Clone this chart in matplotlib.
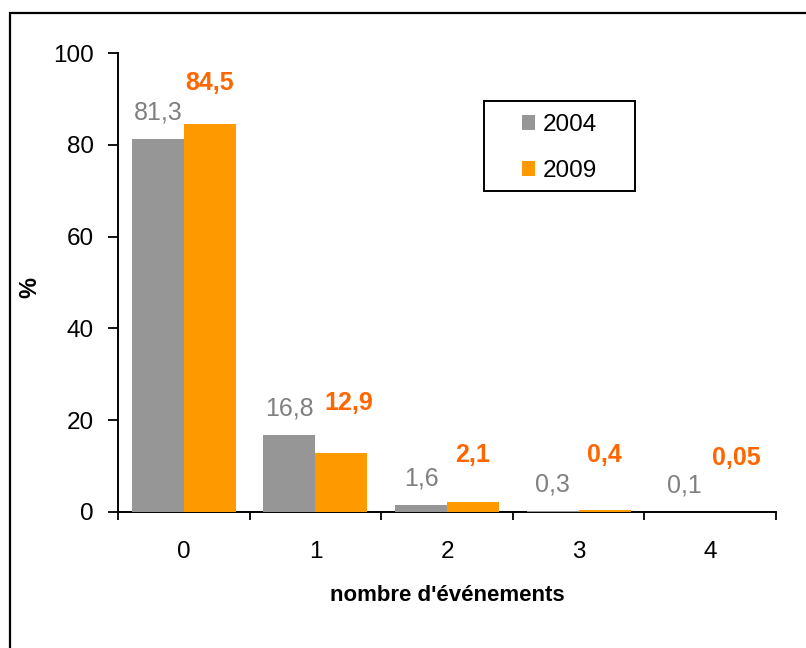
import matplotlib
matplotlib.use("Agg")
import matplotlib.pyplot as plt
from matplotlib.patches import Rectangle, Patch
import numpy as np

plt.rcParams["font.family"] = ["Liberation Sans", "DejaVu Sans"]

# Distribution of the number of events (%)
categories = ["0", "1", "2", "3", "4"]
series_names = ["2004", "2009"]
values_2004 = [81.3, 16.8, 1.6, 0.3, 0.1]
values_2009 = [84.5, 12.9, 2.1, 0.4, 0.05]
labels_2004 = ["81,3", "16,8", "1,6", "0,3", "0,1"]
labels_2009 = ["84,5", "12,9", "2,1", "0,4", "0,05"]
yticks = [0, 20, 40, 60, 80, 100]

GRAY = "#969696"
ORANGE = "#FF9900"
GRAY_TXT = "#808080"
ORANGE_TXT = "#FF6600"

W, H = 806, 648
fig = plt.figure(figsize=(W / 100, H / 100), dpi=100)
ax = fig.add_axes([118 / W, 1 - 512 / H, (776 - 118) / W, (512 - 53) / H])

x = np.arange(len(categories))
bw = 0.395
ax.bar(x - bw / 2, values_2004, width=bw, color=GRAY, edgecolor="none",
       zorder=3)
ax.bar(x + bw / 2, values_2009, width=bw, color=ORANGE, edgecolor="none",
       zorder=3)

# value labels above the bars (offsets in pixels)
gray_lift = 26
orange_lift = [41, 50, 47, 55, 54]
orange_dx = [0, 7, 0, 0, 0]
for i in range(len(categories)):
    ax.annotate(labels_2004[i], (x[i] - bw / 2, values_2004[i]),
                xytext=(0, gray_lift), textcoords="offset pixels",
                ha="center", va="center", fontsize=18, color=GRAY_TXT)
    ax.annotate(labels_2009[i], (x[i] + bw / 2, values_2009[i]),
                xytext=(orange_dx[i], orange_lift[i]), textcoords="offset pixels",
                ha="center", va="center", fontsize=18, color=ORANGE_TXT,
                fontweight="bold")

ax.set_xlim(-0.5, len(categories) - 0.5)
ax.set_ylim(0, 100)
ax.set_yticks(yticks)
ax.set_yticklabels([str(t) for t in yticks])
ax.tick_params(axis="y", direction="out", length=7, width=1.3, pad=10.5,
               labelsize=17.5)

ax.set_xticks(x)
ax.set_xticklabels(categories)
ax.set_xticks(np.arange(-0.5, len(categories)), minor=True)
ax.tick_params(axis="x", which="major", length=0, pad=21, labelsize=17.5)
ax.tick_params(axis="x", which="minor", direction="out", length=6, width=1.3)

for s in ["top", "right"]:
    ax.spines[s].set_visible(False)
for s in ["left", "bottom"]:
    ax.spines[s].set_linewidth(1.4)
    ax.spines[s].set_zorder(2)

ax.set_xlabel("nombre d'événements", fontsize=16, fontweight="bold")
ax.xaxis.set_label_coords(0.5, -0.160)
ax.set_ylabel("%", fontsize=17, fontweight="bold")
ax.yaxis.set_label_coords((41 - 118) / (776 - 118), 0.49)

# legend with its own frame
handles = [Patch(facecolor=GRAY, edgecolor="none"),
           Patch(facecolor=ORANGE, edgecolor="none")]
fig.legend(handles, series_names, loc="upper left",
           bbox_to_anchor=(522 / W, 1 - 114 / H), frameon=False,
           fontsize=17.5, handlelength=0.55, handleheight=0.55,
           handletextpad=0.3, labelspacing=1.0, borderpad=0,
           borderaxespad=0)
fig.add_artist(Rectangle((484 / W, 1 - 191 / H), (635 - 484) / W, 90 / H,
                         transform=fig.transFigure, fill=False,
                         edgecolor="black", linewidth=1.4))

# outer chart border
fig.add_artist(Rectangle((10 / W, -0.1), 1.2, 1.1 - 13 / H,
                         transform=fig.transFigure, fill=False,
                         edgecolor="black", linewidth=1.6))

fig.savefig("out.png", dpi=100)
